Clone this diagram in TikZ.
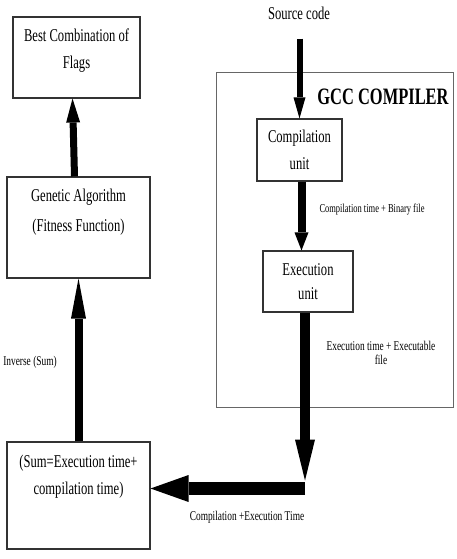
\documentclass[tikz,border=0pt]{standalone}
\usepackage{fontspec}
\setmainfont{Liberation Serif}
\newfontfamily\cond[FakeStretch=0.7]{Liberation Serif}
\usetikzlibrary{arrows.meta}
\begin{document}
\begin{tikzpicture}[x=1pt,y=-1pt,
  boxnode/.style={draw=black!80, line width=1.1pt, inner sep=0pt, align=center,
    font=\cond\fontsize{18}{27}\selectfont},
  txt/.style={inner sep=0pt, align=center, font=\cond\fontsize{18}{27}\selectfont},
  small/.style={inner sep=0pt, align=center, font=\cond\fontsize{13.4}{14}\selectfont},
  fat/.style={line width=#1, black},
]
\fill[white] (0,0) rectangle (457,559);
\useasboundingbox (0,0) rectangle (457,559);

% GCC frame
\node[draw=black!60, line width=1pt, minimum width=237pt, minimum height=334pt, inner sep=0pt] (gcc) at (334.5,240) {};
\node[inner sep=0pt, font=\cond\bfseries\fontsize{23.5}{28}\selectfont] (gcctitle) at (383,97) {GCC COMPILER};

% boxes
\node[boxnode, minimum width=127pt, minimum height=81pt] (best) at (76.5,57.5)
  {Best Combination of\\Flags\\[-8.5pt]\mbox{}};
\node[boxnode, minimum width=143pt, minimum height=101pt] (gen) at (78.5,227.5)
  {Genetic Algorithm\\[3pt](Fitness Function)\\[7.5pt]\mbox{}};
\node[boxnode, minimum width=143pt, minimum height=107pt] (sum) at (78.5,495.5)
  {(Sum=Execution time+\\compilation time)\\[15.5pt]\mbox{}};
\node[boxnode, minimum width=85pt, minimum height=62pt] (comp) at (299.5,150)
  {Compilation\\unit};
\node[boxnode, minimum width=90pt, minimum height=61pt] (exec) at (308,281.5)
  {Execution\\[-3pt]unit};

% labels
\node[txt] (source) at (299,13) {Source code};
\node[small, font=\cond\fontsize{12.1}{14}\selectfont] (lab1) at (372,210) {Compilation time + Binary file};
\node[small] (lab2) at (381,353) {Execution time + Executable\\file};
\node[small] (lab3) at (247,517) {Compilation +Execution Time};
\node[small] (lab4) at (30,362) {Inverse (Sum)};

\coordinate (bend) at (305,488.5);

% arrows
\draw[fat=6pt, -{Triangle[width=12pt,length=21pt,line width=0pt]}, shorten <=19pt]
  (source.south -| comp.north) -- (comp.north);
\draw[fat=8pt, -{Triangle[width=14pt,length=18pt,line width=0pt]}]
  ([xshift=2pt]comp.south) -- ([xshift=2pt]comp.south |- exec.north);
\draw[fat=10pt, -{Triangle[width=20pt,length=41pt,line width=0pt]}]
  (exec.south -| bend) -- ([yshift=8pt]bend);
\draw[fat=13pt, -{Triangle[width=27pt,length=38pt,line width=0pt]}]
  (bend) -- (sum.east |- bend);
\draw[fat=8pt, -{Triangle[width=15pt,length=40pt,line width=0pt]}]
  (sum.north) -- (gen.south);
\draw[fat=7pt, -{Triangle[width=14pt,length=24pt,line width=0pt]}]
  ([xshift=-4pt]gen.north) -- ([xshift=-4pt]best.south);
\end{tikzpicture}
\end{document}
